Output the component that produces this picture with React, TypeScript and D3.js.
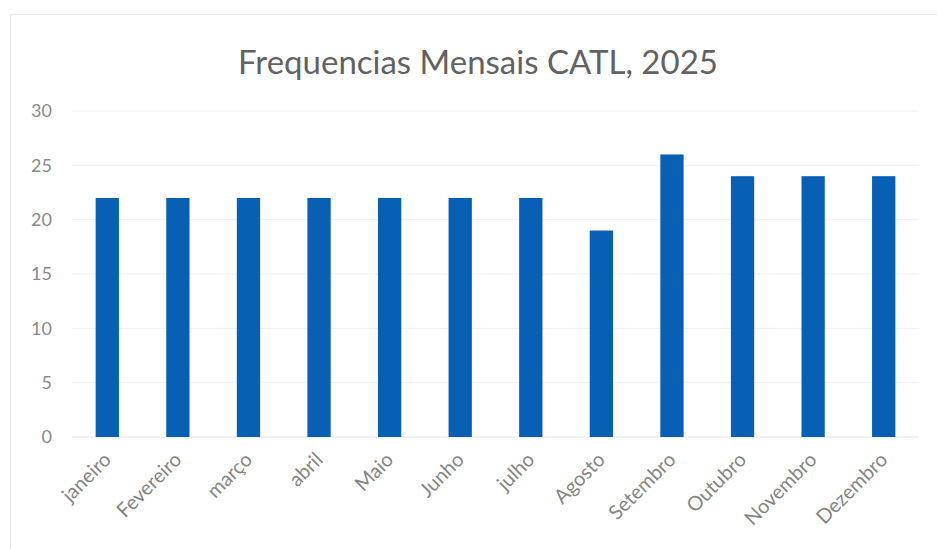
import React, { useEffect, useRef } from 'react';
import * as d3 from 'd3';

const months = ['janeiro', 'Fevereiro', 'março', 'abril', 'Maio', 'Junho', 'julho', 'Agosto', 'Setembro', 'Outubro', 'Novembro', 'Dezembro'];
const counts = [22, 22, 22, 22, 22, 22, 22, 19, 26, 24, 24, 24];
const yTicks = [0, 5, 10, 15, 20, 25, 30];
const title = 'Frequencias Mensais CATL, 2025';

const App = () => {
    const svgRef = useRef<SVGSVGElement>(null);
    const width = 937;
    const height = 549;

    useEffect(() => {
        const svg = d3.select(svgRef.current);
        svg.selectAll('*').remove();

        const margin = { top: 111, right: 18, bottom: 112, left: 72 };
        const innerWidth = width - margin.left - margin.right;
        const innerHeight = height - margin.top - margin.bottom;
        const font = 'Lato, "Open Sans", sans-serif';

        svg.append('rect')
            .attr('width', width)
            .attr('height', height)
            .attr('fill', '#fff');

        // faint chart frame
        svg.append('rect')
            .attr('x', 10.5)
            .attr('y', 14.5)
            .attr('width', 940)
            .attr('height', 560)
            .attr('fill', 'none')
            .attr('stroke', '#e8e8e8');

        const g = svg.append('g')
            .attr('transform', `translate(${margin.left},${margin.top})`);

        const xScale = d3.scaleBand()
            .domain(months)
            .range([0, innerWidth])
            .paddingInner(0.67)
            .paddingOuter(0.335);

        const yScale = d3.scaleLinear()
            .domain([0, 30])
            .range([innerHeight, 0]);

        // gridlines
        g.selectAll('.grid')
            .data(yTicks)
            .enter()
            .append('line')
            .attr('x1', 0)
            .attr('x2', innerWidth)
            .attr('y1', d => yScale(d))
            .attr('y2', d => yScale(d))
            .attr('stroke', d => d === 0 ? '#e3e3e3' : '#f0f0f0')
            .attr('stroke-width', 1);

        // y labels
        g.selectAll('.ylab')
            .data(yTicks)
            .enter()
            .append('text')
            .attr('x', -20)
            .attr('y', d => yScale(d))
            .attr('dy', '0.35em')
            .attr('text-anchor', 'end')
            .style('font-family', font)
            .style('font-size', '18px')
            .style('fill', '#8a8a8a')
            .text(d => d);

        // bars
        g.selectAll('.bar')
            .data(counts)
            .enter()
            .append('rect')
            .attr('x', (d, i) => xScale(months[i]))
            .attr('y', d => yScale(d))
            .attr('width', xScale.bandwidth())
            .attr('height', d => innerHeight - yScale(d))
            .attr('fill', '#0860b4');

        // x labels
        g.selectAll('.xlab')
            .data(months)
            .enter()
            .append('text')
            .attr('transform', d => `translate(${xScale(d) + xScale.bandwidth() / 2 + 5},${innerHeight + 24}) rotate(-45)`)
            .attr('text-anchor', 'end')
            .style('font-family', font)
            .style('font-size', '20px')
            .style('fill', '#858585')
            .text(d => d);

        // title
        svg.append('text')
            .attr('x', 478)
            .attr('y', 74)
            .attr('text-anchor', 'middle')
            .style('font-family', font)
            .style('font-size', '33px')
            .style('fill', '#626262')
            .text(title);
    }, []);

    return (
        <svg ref={svgRef} width={width} height={height}
            style={{ position: 'absolute', top: 0, left: 0 }}></svg>
    );
};

export default App;
